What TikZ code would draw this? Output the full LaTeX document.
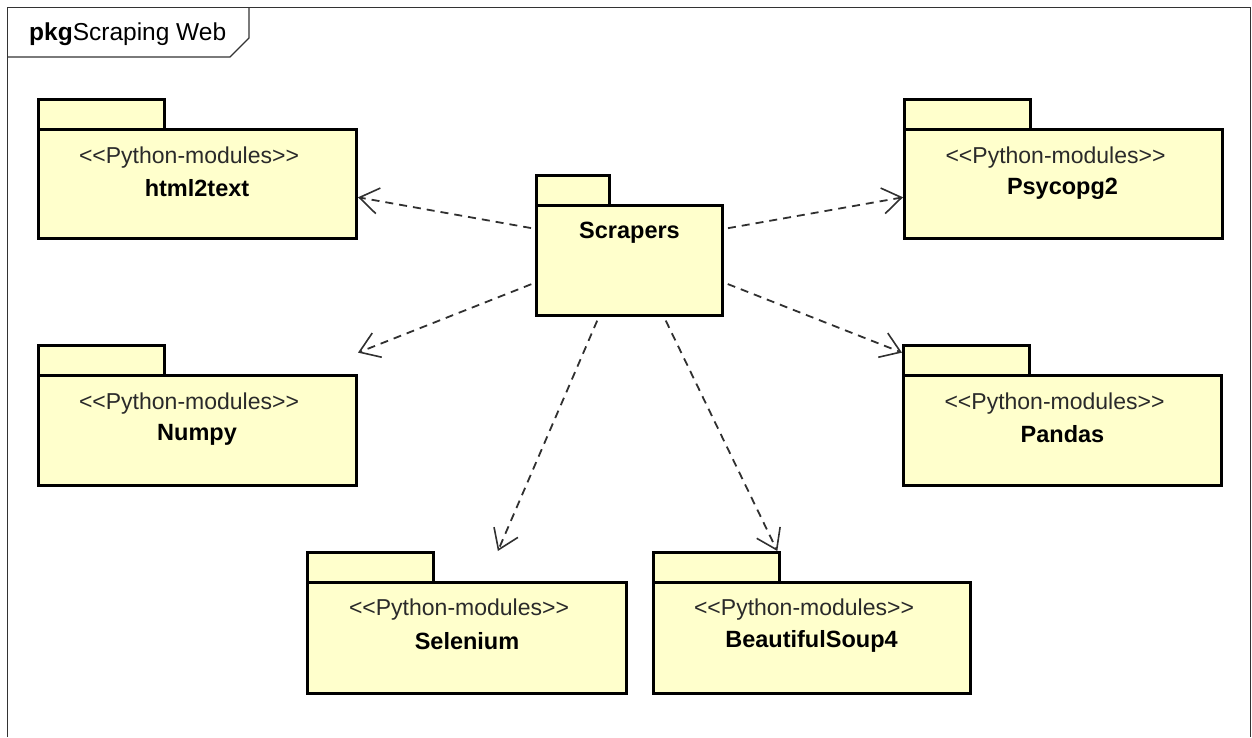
\documentclass[tikz,border=0pt]{standalone}
\usepackage{fontspec}
\setmainfont{Liberation Sans}
\usetikzlibrary{arrows.meta,calc}

\definecolor{pkgfill}{HTML}{FFFFCC}
\definecolor{depgray}{HTML}{303030}
\definecolor{framegray}{HTML}{333333}
\definecolor{stereogray}{HTML}{2A2A2A}

\tikzset{
  pkgline/.style={draw=black, line width=3.4pt, fill=pkgfill, line join=miter},
  pkgarea/.style={rectangle, inner sep=0pt, outer sep=0pt, draw=none},
  stereo/.style={inner sep=0pt, text=stereogray, font=\fontsize{23}{27}\selectfont},
  pkgname/.style={inner sep=0pt, text=black, font=\fontsize{23.5}{27}\selectfont\bfseries},
  dep/.style={draw=depgray, line width=1.8pt, dash pattern=on 8pt off 6pt,
    shorten <=4pt,
    -{Straight Barb[length=19pt, width=26pt, line width=1.6pt]}},
  frameline/.style={draw=framegray, line width=1.6pt},
}

% package symbol: tab + body, plus an invisible node covering both
% #1 name, #2 left, #3 tab top, #4 tab width, #5 tab height, #6 body width, #7 body height
\newcommand\umlpackage[7]{%
  \draw[pkgline] (#2,#3) rectangle ++(#4,#5);
  \draw[pkgline] (#2,{#3+#5}) rectangle ++(#6,#7);
  \node[pkgarea, minimum width={#6+3}, minimum height={#5+#7+3}]
    (#1) at ({#2+#6/2},{#3+(#5+#7)/2}) {};
}

\newcommand\stereotxt{<\kern0pt<Python-modules>\kern0pt>}

\begin{document}
\begin{tikzpicture}[x=1pt, y=-1pt]
  \useasboundingbox (0,0) rectangle (1252,737);

  % diagram frame with its name tab
  \draw[frameline] (7.5,737) -- (7.5,7.5) -- (1250.5,7.5) -- (1250.5,737);
  \draw[frameline, line width=1.3pt] (7.5,57) -- (230,57) -- (249,38) -- (249,7.5);
  \node[anchor=west, inner sep=0pt, font=\fontsize{24.5}{28}\selectfont] (title) at (29,34)
    {\textbf{pkg}Scraping Web};

  % packages
  \umlpackage{scrapers}{536.5}{175.5}{73}{30}{186}{110}
  \umlpackage{html2text}{38.5}{99.5}{126}{30}{318}{109}
  \umlpackage{psycopg}{904.5}{99.5}{126}{30}{318}{109}
  \umlpackage{numpy}{38.5}{345.5}{126}{30}{318}{110}
  \umlpackage{pandas}{903.5}{345.5}{126}{30}{318}{110}
  \umlpackage{selenium}{307.5}{552.5}{126}{30}{319}{111}
  \umlpackage{soup}{653.5}{552.5}{126}{30}{317}{111}

  % package labels
  \node[pkgname] (scrapers-name) at (629.5,233) {Scrapers};

  \node[stereo]  (html2text-st)   at (189,158) {\stereotxt};
  \node[pkgname] (html2text-name) at (197,188) {html2text};

  \node[stereo]  (psycopg-st)   at (1055.5,158) {\stereotxt};
  \node[pkgname] (psycopg-name) at (1062.5,189) {Psycopg2};

  \node[stereo]  (numpy-st)   at (189,404) {\stereotxt};
  \node[pkgname] (numpy-name) at (197,435) {Numpy};

  \node[stereo]  (pandas-st)   at (1054.5,404) {\stereotxt};
  \node[pkgname] (pandas-name) at (1062.5,434) {Pandas};

  \node[stereo]  (selenium-st)   at (459,610) {\stereotxt};
  \node[pkgname] (selenium-name) at (467,641) {Selenium};

  \node[stereo]  (soup-st)   at (804,610) {\stereotxt};
  \node[pkgname] (soup-name) at (811.5,641) {BeautifulSoup4};

  % dependencies
  \draw[dep] (scrapers) -- (html2text);
  \draw[dep] (scrapers) -- (psycopg);
  \draw[dep] (scrapers) -- (numpy);
  \draw[dep] (scrapers) -- (pandas);
  \draw[dep] (scrapers) -- (selenium);
  \draw[dep] (scrapers) -- (soup);
\end{tikzpicture}
\end{document}
